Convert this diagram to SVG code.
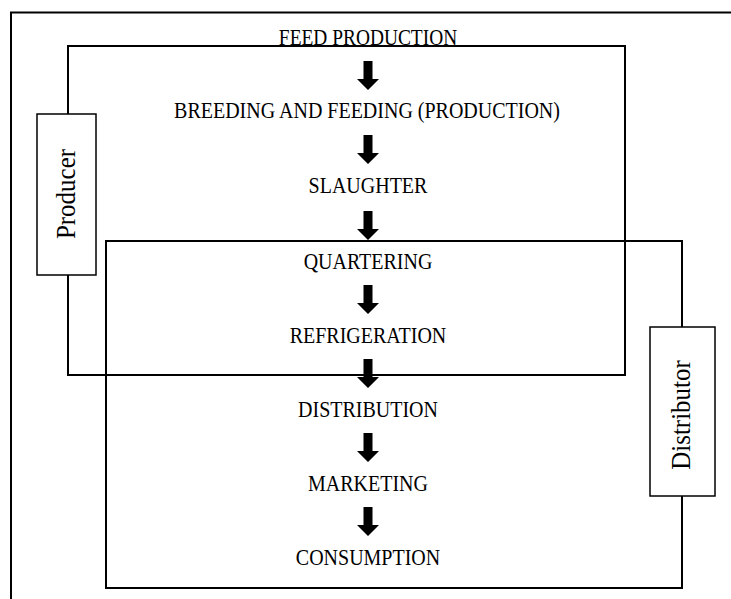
<svg xmlns="http://www.w3.org/2000/svg" width="731" height="599" viewBox="0 0 731 599">
<style>
.box{fill:none;stroke:#000;stroke-width:2}
.lbl{fill:#fff;stroke:#000;stroke-width:1.5}
.t{font-family:"Liberation Serif","Times New Roman",serif;font-size:20px;fill:#000;text-anchor:middle}
.v{font-family:"Liberation Serif","Times New Roman",serif;font-size:25px;fill:#000;text-anchor:middle}
.arr{fill:#000}
</style>
<defs>
<path id="a" d="M-4.5,0 H4.5 V18 H11 L0,29 L-11,18 H-4.5 Z"/>
</defs>
<rect x="11" y="12.5" width="800" height="700" class="box"/>
<g id="producer-area"><rect x="68" y="46" width="557" height="329" class="box"/></g>
<g id="distributor-area"><rect x="106" y="241" width="576" height="347" class="box"/></g>
<g id="producer"><rect x="37" y="114" width="59" height="161" class="lbl"/><text class="v" transform="translate(75,194) rotate(-90) scale(1,1.12)">Producer</text></g>
<g id="distributor"><rect x="650" y="327" width="65" height="169" class="lbl"/><text class="v" transform="translate(690,415) rotate(-90) scale(1,1.12)">Distributor</text></g>
<g id="feed"><text class="t" transform="translate(368,45) scale(0.97,1.13)">FEED PRODUCTION</text></g>
<g id="breeding"><text class="t" transform="translate(367,118) scale(1,1.13)">BREEDING AND FEEDING (PRODUCTION)</text></g>
<g id="slaughter"><text class="t" transform="translate(368,193) scale(1,1.13)">SLAUGHTER</text></g>
<g id="quartering"><text class="t" transform="translate(368,269) scale(1,1.13)">QUARTERING</text></g>
<g id="refrigeration"><text class="t" transform="translate(368,343) scale(1,1.13)">REFRIGERATION</text></g>
<g id="distribution"><text class="t" transform="translate(368,417) scale(1,1.13)">DISTRIBUTION</text></g>
<g id="marketing"><text class="t" transform="translate(368,491) scale(1,1.13)">MARKETING</text></g>
<g id="consumption"><text class="t" transform="translate(368,565) scale(1,1.13)">CONSUMPTION</text></g>
<g id="connectors" class="arr">
<use href="#a" x="368" y="61"/>
<use href="#a" x="368" y="135"/>
<use href="#a" x="368" y="211"/>
<use href="#a" x="368" y="285"/>
<use href="#a" x="368" y="359"/>
<use href="#a" x="368" y="433"/>
<use href="#a" x="368" y="507"/>
</g>
</svg>
